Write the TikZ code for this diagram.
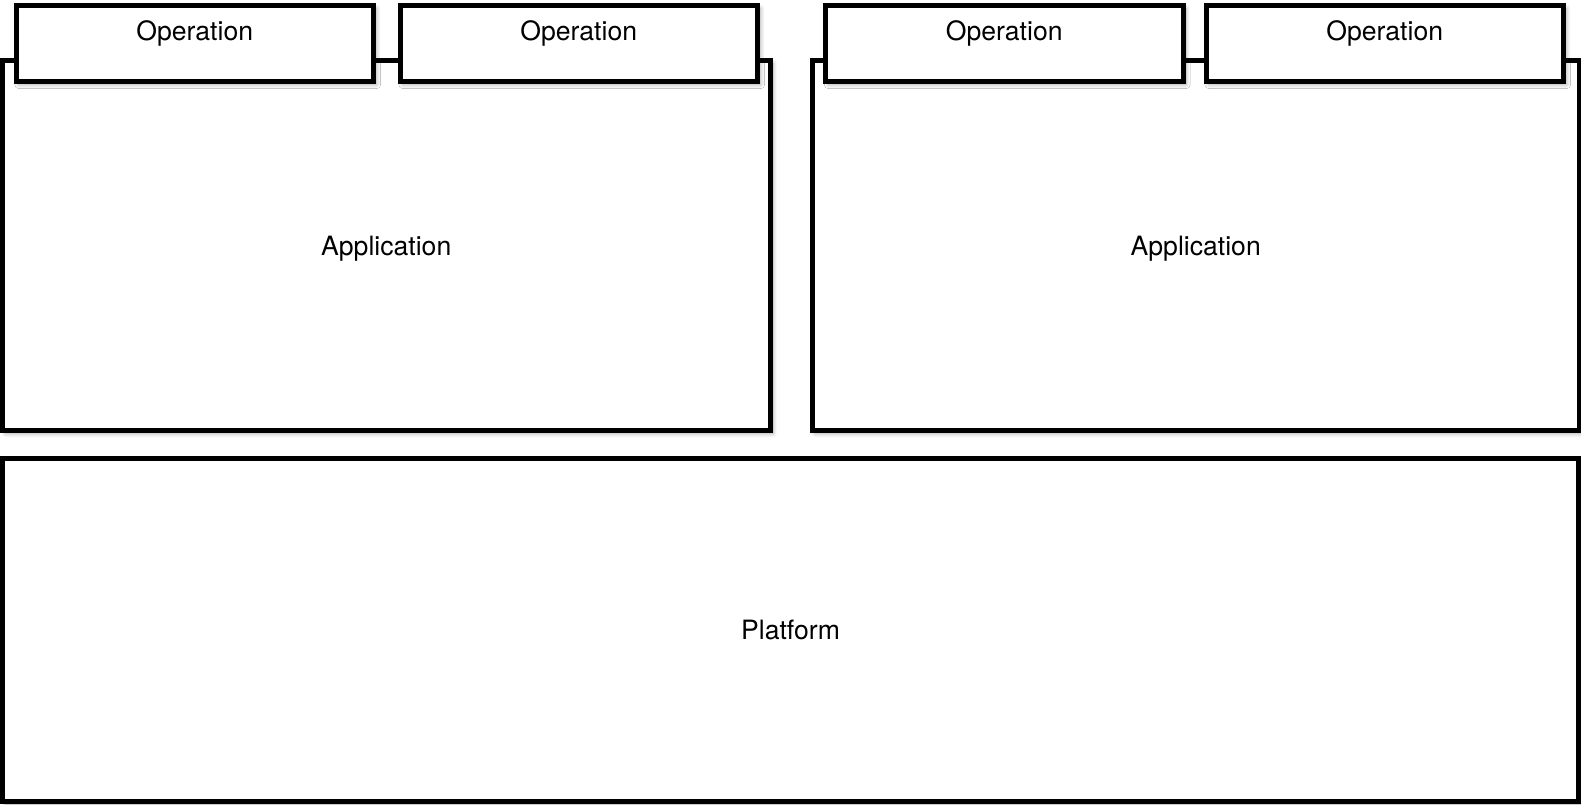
\documentclass[tikz,border=0pt]{standalone}
\usepackage{fontspec}
\setmainfont{TeX Gyre Heros}
\usetikzlibrary{shadows.blur}

\tikzset{
  box/.style={draw, line width=2.5pt, fill=white, inner sep=0pt,
    blur shadow={shadow xshift=1.5pt, shadow yshift=-1.5pt, shadow blur steps=6, shadow opacity=35}},
  appbox/.style={box, minimum width=383.75pt, minimum height=185pt, text height=10pt, text depth=0pt},
  opbox/.style={box, minimum width=178.75pt, minimum height=38pt},
  optext/.style={label={[yshift=5pt]center:Operation}}
}

\begin{document}
\begin{tikzpicture}[x=0.5pt, y=-0.5pt, font=\fontsize{13.3}{16}\selectfont]
		\useasboundingbox (0,0) rectangle (1581,804);
		% Define nodes
		\node[box, minimum width=788pt, minimum height=171.5pt] (platform) at (790.5,629.5) {Platform};
		\node[appbox] (app1) at (386.25,245.5) {Application};
		\node[appbox] (app2) at (1195.75,245.5) {Application};
		
		% Operations on top of each application
		\node[opbox, optext] (op1) at (194.75,43.5) {};
		\node[opbox, optext] (op2) at (578.75,43.5) {};
		\node[opbox, optext] (op3) at (1004.25,43.5) {};
		\node[opbox, optext] (op4) at (1384.75,43.5) {};
	\end{tikzpicture}
\end{document}
